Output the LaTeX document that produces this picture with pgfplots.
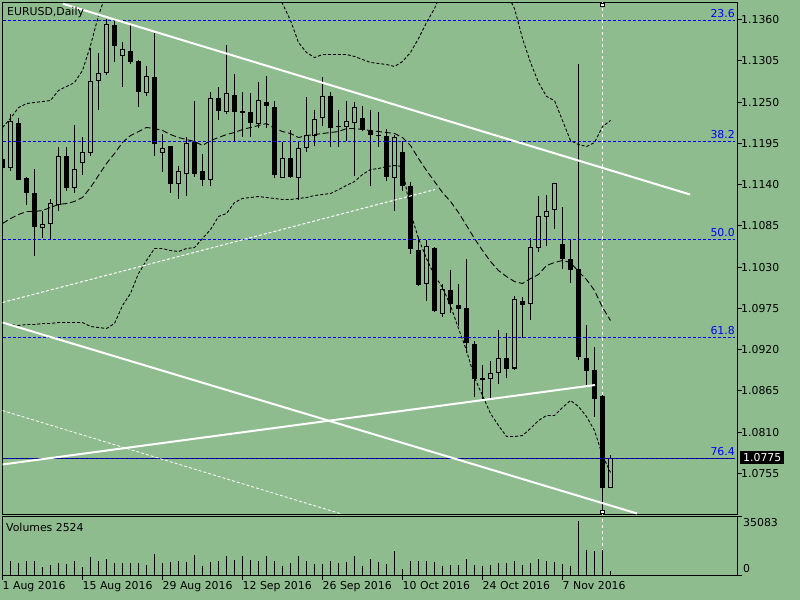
\documentclass[border=0pt]{standalone}
\usepackage{fontspec}
\setmainfont{DejaVu Sans}
\usepackage{pgfplots}
\usepackage{pgfplotstable}
\pgfplotsset{compat=1.18}
\definecolor{bg}{RGB}{143,188,143}
\definecolor{fibblue}{RGB}{0,0,255}
\newcommand\mt{\fontsize{10.9}{12}\selectfont}

\pgfplotstableread{
i o h l c
1 1.11624 1.12343 1.11578 1.12241
5 1.10832 1.11045 1.10691 1.10864
6 1.10877 1.11211 1.10677 1.11148
7 1.11131 1.11898 1.11055 1.11774
9 1.11365 1.12201 1.11290 1.11601
10 1.11698 1.12031 1.11530 1.11824
11 1.11823 1.13217 1.11788 1.12774
12 1.12787 1.13156 1.12397 1.12876
13 1.12890 1.13609 1.12863 1.13529
15 1.13120 1.13297 1.12698 1.13196
18 1.12631 1.12987 1.12578 1.12840
20 1.11823 1.12077 1.11565 1.11881
22 1.11418 1.11654 1.11205 1.11570
23 1.11544 1.12031 1.11254 1.11951
26 1.11464 1.12631 1.11388 1.12543
28 1.12378 1.13267 1.12343 1.12610
32 1.12210 1.12764 1.12157 1.12520
35 1.11498 1.11974 1.11490 1.11752
37 1.11490 1.11965 1.11201 1.11877
38 1.11890 1.12564 1.11831 1.12054
39 1.12054 1.12397 1.11921 1.12267
40 1.12290 1.12840 1.12187 1.12574
43 1.12174 1.12511 1.11978 1.12241
44 1.12223 1.12507 1.11521 1.12423
49 1.11498 1.12067 1.11055 1.12023
53 1.10078 1.10664 1.09855 1.10575
55 1.09686 1.10078 1.09633 1.09998
61 1.08812 1.09056 1.08545 1.08878
62 1.08892 1.09465 1.08745 1.09078
64 1.08956 1.09915 1.08932 1.09865
66 1.09811 1.10691 1.09598 1.10565
67 1.10558 1.11242 1.10499 1.10975
68 1.10975 1.11268 1.10588 1.11045
69 1.11064 1.11418 1.10811 1.11410
76 1.07359 1.07803 1.07355 1.07750
}\bull

\pgfplotstableread{
i o h l c
0 1.11748 1.11854 1.11561 1.11628
2 1.12227 1.12290 1.11465 1.11468
3 1.11494 1.11500 1.11125 1.11285
4 1.11285 1.11610 1.10442 1.10832
8 1.11788 1.11898 1.11312 1.11352
14 1.13533 1.13596 1.13031 1.13244
16 1.13187 1.13543 1.13010 1.13040
17 1.13053 1.13060 1.12431 1.12631
19 1.12840 1.13423 1.11788 1.11943
21 1.11911 1.11920 1.11290 1.11410
24 1.11965 1.12520 1.11498 1.11544
25 1.11588 1.11810 1.11378 1.11464
27 1.12556 1.12698 1.12267 1.12387
29 1.12600 1.12876 1.11987 1.12365
30 1.12378 1.12631 1.12041 1.12351
31 1.12365 1.12618 1.12041 1.12218
33 1.12507 1.12854 1.12157 1.12444
34 1.12440 1.12520 1.11490 1.11534
36 1.11752 1.12130 1.11490 1.11498
41 1.12587 1.12631 1.11907 1.12151
42 1.12187 1.12400 1.11907 1.12165
45 1.12290 1.12454 1.12121 1.12130
46 1.12121 1.12397 1.11378 1.12063
47 1.12067 1.12374 1.11907 1.12045
48 1.12054 1.12143 1.11454 1.11498
50 1.11841 1.11987 1.11321 1.11378
51 1.11388 1.11432 1.10478 1.10544
52 1.10531 1.10699 1.10046 1.10068
54 1.10558 1.10566 1.09700 1.09713
56 1.09998 1.10268 1.09686 1.09811
57 1.09802 1.10073 1.09522 1.09745
58 1.09758 1.10411 1.09158 1.09292
59 1.09278 1.09313 1.08566 1.08812
60 1.08825 1.09002 1.08545 1.08806
63 1.09092 1.09429 1.08820 1.08945
65 1.09855 1.09899 1.09362 1.09798
70 1.10611 1.11108 1.10278 1.10411
71 1.10411 1.10677 1.10091 1.10264
72 1.10278 1.13010 1.09065 1.09109
73 1.09092 1.09535 1.08709 1.08913
74 1.08932 1.09242 1.08300 1.08545
75 1.08589 1.08595 1.07057 1.07359
}\bear

\pgfplotstableread{
i mid up lo vol
0 1.10881 1.12161 1.09549 8200
1 1.10948 1.12281 1.09535 9000
2 1.11001 1.12427 1.09522 7400
3 1.11041 1.12480 1.09535 8600
4 1.11041 1.12494 1.09535 8600
5 1.11055 1.12507 1.09549 5400
6 1.11095 1.12520 1.09549 6600
7 1.11135 1.12654 1.09562 7600
8 1.11148 1.12707 1.09562 7200
9 1.11175 1.12760 1.09562 8600
10 1.11228 1.12920 1.09562 5400
11 1.11361 1.13253 1.09509 11000
12 1.11521 1.13653 1.09495 8600
13 1.11681 1.13960 1.09482 10200
14 1.11814 1.14186 1.09549 7600
15 1.11961 1.14300 1.09789 7600
16 1.12054 1.14350 1.09949 7600
17 1.12107 1.14380 1.10215 7600
18 1.12161 1.14400 1.10388 6600
19 1.12147 1.14400 1.10548 13200
20 1.12121 1.14380 1.10548 7600
21 1.12067 1.14350 1.10522 8200
22 1.12027 1.14330 1.10508 8600
23 1.12001 1.14320 1.10548 8200
24 1.11974 1.14300 1.10561 12600
25 1.11921 1.14300 1.10681 6000
26 1.11987 1.14300 1.10801 8000
27 1.12027 1.14300 1.10975 8600
28 1.12067 1.14280 1.11015 12000
29 1.12094 1.14250 1.11161 9400
30 1.12134 1.14250 1.11215 12000
31 1.12161 1.14230 1.11228 9600
32 1.12187 1.14300 1.11241 9000
33 1.12214 1.14253 1.11228 11800
34 1.12147 1.14013 1.11215 8600
35 1.12107 1.13813 1.11201 6000
36 1.12081 1.13587 1.11201 7600
37 1.12027 1.13293 1.11215 12000
38 1.12054 1.13160 1.11228 8600
39 1.12067 1.13093 1.11254 7000
40 1.12081 1.13133 1.11268 7000
41 1.12094 1.13133 1.11281 8600
42 1.12107 1.13133 1.11334 7600
43 1.12147 1.13133 1.11388 8000
44 1.12147 1.13107 1.11441 11600
45 1.12134 1.13067 1.11534 6000
46 1.12121 1.13027 1.11601 10200
47 1.12107 1.13014 1.11614 8000
48 1.12094 1.13000 1.11641 7200
49 1.12081 1.12974 1.11654 14600
50 1.12027 1.13040 1.11641 4200
51 1.11921 1.13160 1.11028 8600
52 1.11748 1.13347 1.10681 9000
53 1.11588 1.13560 1.10415 9000
54 1.11441 1.13746 1.10188 8000
55 1.11294 1.13986 1.10028 6000
56 1.11175 1.14186 1.09789 6600
57 1.11028 1.14319 1.09482 6600
58 1.10855 1.14386 1.09189 10200
59 1.10681 1.14386 1.08829 6600
60 1.10522 1.14359 1.08589 5600
61 1.10375 1.14253 1.08349 6600
62 1.10255 1.14146 1.08189 7400
63 1.10175 1.13960 1.08043 7400
64 1.10108 1.13746 1.08043 9000
65 1.10082 1.13347 1.08056 6600
66 1.10148 1.13027 1.08150 7400
67 1.10202 1.12760 1.08256 10200
68 1.10322 1.12574 1.08323 8600
69 1.10362 1.12520 1.08323 8000
70 1.10388 1.12254 1.08429 7000
71 1.10362 1.11987 1.08523 6000
72 1.10242 1.11934 1.08443 32600
73 1.10135 1.11907 1.08309 15200
74 1.09989 1.11961 1.08123 14600
75 1.09762 1.12174 1.07790 15600
76 1.09589 1.12254 1.07564 2600
}\ind

\begin{document}
\begin{tikzpicture}
\useasboundingbox (0,0) rectangle (800pt,600pt);
\fill[bg] (0,0) rectangle (800pt,600pt);

% ---------------- price panel ----------------
\begin{axis}[
  at={(2.5pt,85.5pt)}, anchor=south west,
  scale only axis, width=735pt, height=512pt,
  xmin=0, xmax=91.875, ymin=1.070036, ymax=1.138265,
  axis line style={black, line width=1pt},
  xtick=\empty,
  ytick={1.1360,1.1305,1.1250,1.1195,1.1140,1.1085,1.1030,1.0975,1.0920,1.0865,1.0810,1.0755},
  yticklabels={1.1360,1.1305,1.1250,1.1195,1.1140,1.1085,1.1030,1.0975,1.0920,1.0865,1.0810,1.0755},
  ytick pos=right, yticklabel pos=right,
  tick align=outside, major tick length=4pt,
  tick style={black, line width=1pt},
  yticklabel style={font=\mt, anchor=west, inner sep=0pt, xshift=-0.5pt},
]
% vertical line (behind the candles)
\addplot[white, line width=1pt, dash pattern=on 3pt off 3pt] coordinates {(75,1.0700) (75,1.1383)};
% wicks
\addplot[draw=none, mark=none, error bars/.cd, y dir=both, y explicit, error mark=none,
  error bar style={draw=black, line width=1pt, solid}]
  table[x=i, y expr={(\thisrow{h}+\thisrow{l})/2}, y error expr={(\thisrow{h}-\thisrow{l})/2}] {\bear};
\addplot[draw=none, mark=none, error bars/.cd, y dir=both, y explicit, error mark=none,
  error bar style={draw=black, line width=1pt, solid}]
  table[x=i, y expr={(\thisrow{h}+\thisrow{l})/2}, y error expr={(\thisrow{h}-\thisrow{l})/2}] {\bull};
% bear bodies
\addplot[draw=none, mark=none, error bars/.cd, y dir=both, y explicit, error mark=none,
  error bar style={draw=black, line width=5pt, solid}]
  table[x=i, y expr={(\thisrow{o}+\thisrow{c})/2}, y error expr={max(abs(\thisrow{o}-\thisrow{c})/2,0.00007)}] {\bear};
% bull bodies: outline then inside
\addplot[draw=none, mark=none, error bars/.cd, y dir=both, y explicit, error mark=none,
  error bar style={draw=black, line width=5pt, solid}]
  table[x=i, y expr={(\thisrow{o}+\thisrow{c})/2}, y error expr={abs(\thisrow{o}-\thisrow{c})/2+0.00007}] {\bull};
\addplot[draw=none, mark=none, error bars/.cd, y dir=both, y explicit, error mark=none,
  error bar style={draw=bg, line width=3pt, solid}]
  table[x=i, y expr={(\thisrow{o}+\thisrow{c})/2}, y error expr={max(abs(\thisrow{o}-\thisrow{c})/2-0.00007,0)}] {\bull};

% bands
\addplot[black, line width=0.9pt, dash pattern=on 6pt off 3pt, mark=none] table[x=i, y=mid] {\ind};
\addplot[black, line width=0.9pt, dash pattern=on 3pt off 2pt, mark=none] table[x=i, y=up] {\ind};
\addplot[black, line width=0.9pt, dash pattern=on 3pt off 2pt, mark=none] table[x=i, y=lo] {\ind};

% Fibonacci levels
\addplot[fibblue, line width=1pt, dash pattern=on 3pt off 2pt] coordinates {(0,1.13587) (91.55,1.13587)};
\addplot[fibblue, line width=1pt, dash pattern=on 3pt off 2pt] coordinates {(0,1.11974) (91.55,1.11974)};
\addplot[fibblue, line width=1pt, dash pattern=on 3pt off 2pt] coordinates {(0,1.10668) (91.55,1.10668)};
\addplot[fibblue, line width=1pt, dash pattern=on 3pt off 2pt] coordinates {(0,1.09362) (91.55,1.09362)};
\addplot[black, line width=1pt] coordinates {(0,1.07750) (91.55,1.07750)};
\addplot[fibblue, line width=1pt, dash pattern=on 3pt off 2pt] coordinates {(0,1.07750) (91.55,1.07750)};

% trend lines
\addplot[white, line width=2pt] coordinates {(7.56,1.13809) (85.94,1.11268)};
\addplot[white, line width=2pt] coordinates {(0,1.09562) (79.31,1.07017)};
\addplot[white, line width=2pt] coordinates {(0,1.07670) (74.06,1.08729)};
\addplot[white, line width=1pt, dash pattern=on 3pt off 2pt] coordinates {(0,1.09829) (54.06,1.11334)};
\addplot[white, line width=0.8pt, dash pattern=on 3pt off 2pt] coordinates {(0,1.08389) (42.19,1.07017)};
% end markers of the vertical line
\addplot[only marks, mark=square*, mark size=1.7pt, mark options={fill=white, draw=black, line width=0.8pt}] coordinates {(75,1.13793) (75,1.07041)};
\end{axis}

% ---------------- volume panel ----------------
\begin{axis}[
  at={(2.5pt,24.5pt)}, anchor=south west,
  scale only axis, width=735pt, height=59pt,
  xmin=0, xmax=91.875, ymin=0, ymax=35400,
  axis line style={black, line width=1pt},
  xtick={0,10,20,30,40,50,60,70},
  xticklabels={1 Aug 2016,15 Aug 2016,29 Aug 2016,12 Sep 2016,26 Sep 2016,10 Oct 2016,24 Oct 2016,7 Nov 2016},
  xtick pos=bottom,
  ytick={0,35400}, yticklabels={,,}, scaled y ticks=false, ytick pos=right,
  tick align=outside, major tick length=4pt,
  tick style={black, line width=1pt},
  xticklabel style={font=\mt, anchor=north west, inner sep=0pt, yshift=-2pt},
]
\addplot[white, line width=1pt, dash pattern=on 3pt off 3pt] coordinates {(75,0) (75,35400)};
\addplot[ycomb, black, line width=1pt, mark=none] table[x=i, y=vol] {\ind};
\end{axis}

% ---------------- texts ----------------
\node[font=\mt, anchor=west, inner sep=0pt] at (7pt,588pt) {EURUSD,Daily};
\node[font=\mt, anchor=west, inner sep=0pt] at (6pt,72.3pt) {Volumes 2524};
\node[font=\mt, anchor=west, inner sep=0pt] at (743pt,77pt) {35083};
\node[font=\mt, anchor=west, inner sep=0pt] at (743pt,31pt) {0};
\node[font=\mt, text=white, fill=black, inner xsep=3pt, inner ysep=1.5pt, minimum height=13pt, anchor=west] at (740pt,142.5pt) {1.0775};
\begin{scope}[every node/.style={font=\mt, text=fibblue, anchor=base east, inner sep=0pt}]
\node at (735pt,582.7pt) {23.6};
\node at (735pt,461.4pt) {38.2};
\node at (735pt,363.7pt) {50.0};
\node at (735pt,265.7pt) {61.8};
\node at (735pt,144.7pt) {76.4};
\end{scope}
\end{tikzpicture}
\end{document}
